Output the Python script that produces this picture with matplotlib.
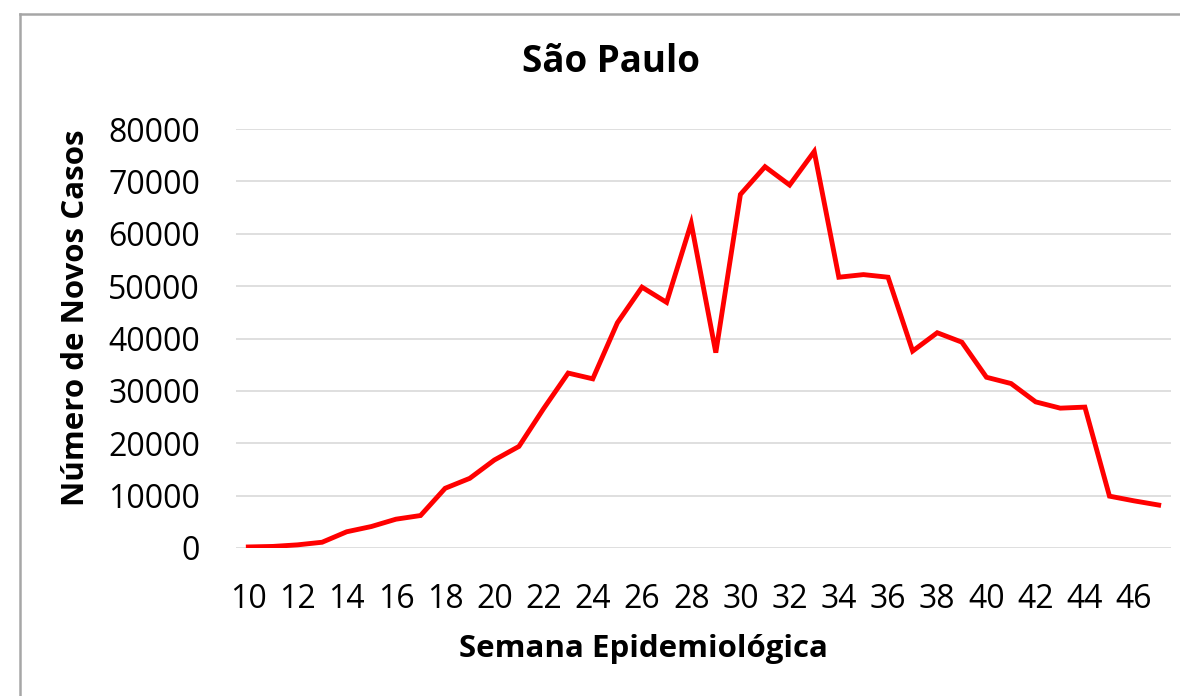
import numpy as np
import matplotlib.pyplot as plt
from matplotlib.lines import Line2D

# new cases per epidemiological week
weeks = list(range(10, 48))
new_cases = [200, 300, 600, 1100, 3100, 4100, 5500, 6200, 11400, 13300,
             16800, 19400, 26600, 33400, 32300, 43000, 49800, 46900, 62000, 37300,
             67500, 72800, 69300, 75700, 51700, 52200, 51700, 37600, 41100, 39300,
             32600, 31400, 27900, 26700, 26900, 9900, 9000, 8200]
x_ticks = list(range(10, 47, 2))
y_ticks = list(range(0, 80001, 10000))

plt.rcParams['font.family'] = ['Open Sans', 'DejaVu Sans']

W, H = 1180, 696
fig = plt.figure(figsize=(W / 100, H / 100), dpi=100)
fig.patch.set_facecolor('white')

# plot area in pixels: x 236..1171, y 129..548
ax = fig.add_axes([236 / W, 1 - 548 / H, (1171 - 236) / W, (548 - 129) / H])
ax.plot(weeks, new_cases, color='#ff0000', linewidth=3.5, solid_joinstyle='miter')
ax.set_xlim(9.5, 47.5)
ax.set_ylim(0, 80000)
ax.set_xticks(x_ticks)
ax.set_yticks(y_ticks)
ax.grid(axis='y', color='#d9d9d9', linewidth=1.2)
ax.set_axisbelow(True)
for s in ax.spines.values():
    s.set_visible(False)
ax.tick_params(axis='both', length=0, labelsize=23, colors='black')
ax.tick_params(axis='y', pad=26)
ax.tick_params(axis='x', pad=25)

fig.text(611 / W, 1 - 62 / H, 'São Paulo', ha='center', va='center',
         fontsize=26.5, fontweight='bold')
fig.text(643 / W, 1 - 649 / H, 'Semana Epidemiológica', ha='center', va='center',
         fontsize=22.5, fontweight='bold')
fig.text(76 / W, 1 - 318 / H, 'Número de Novos Casos', ha='center', va='center',
         rotation=90, fontsize=22.5, fontweight='bold')

# outer chart border (left and top edges visible)
fig.add_artist(Line2D([20 / W, 20 / W], [0, 1 - 14 / H], color='#a6a6a6', linewidth=1.8))
fig.add_artist(Line2D([20 / W, 1], [1 - 14 / H, 1 - 14 / H], color='#a6a6a6', linewidth=1.8))

fig.savefig('out.png', dpi=100)
